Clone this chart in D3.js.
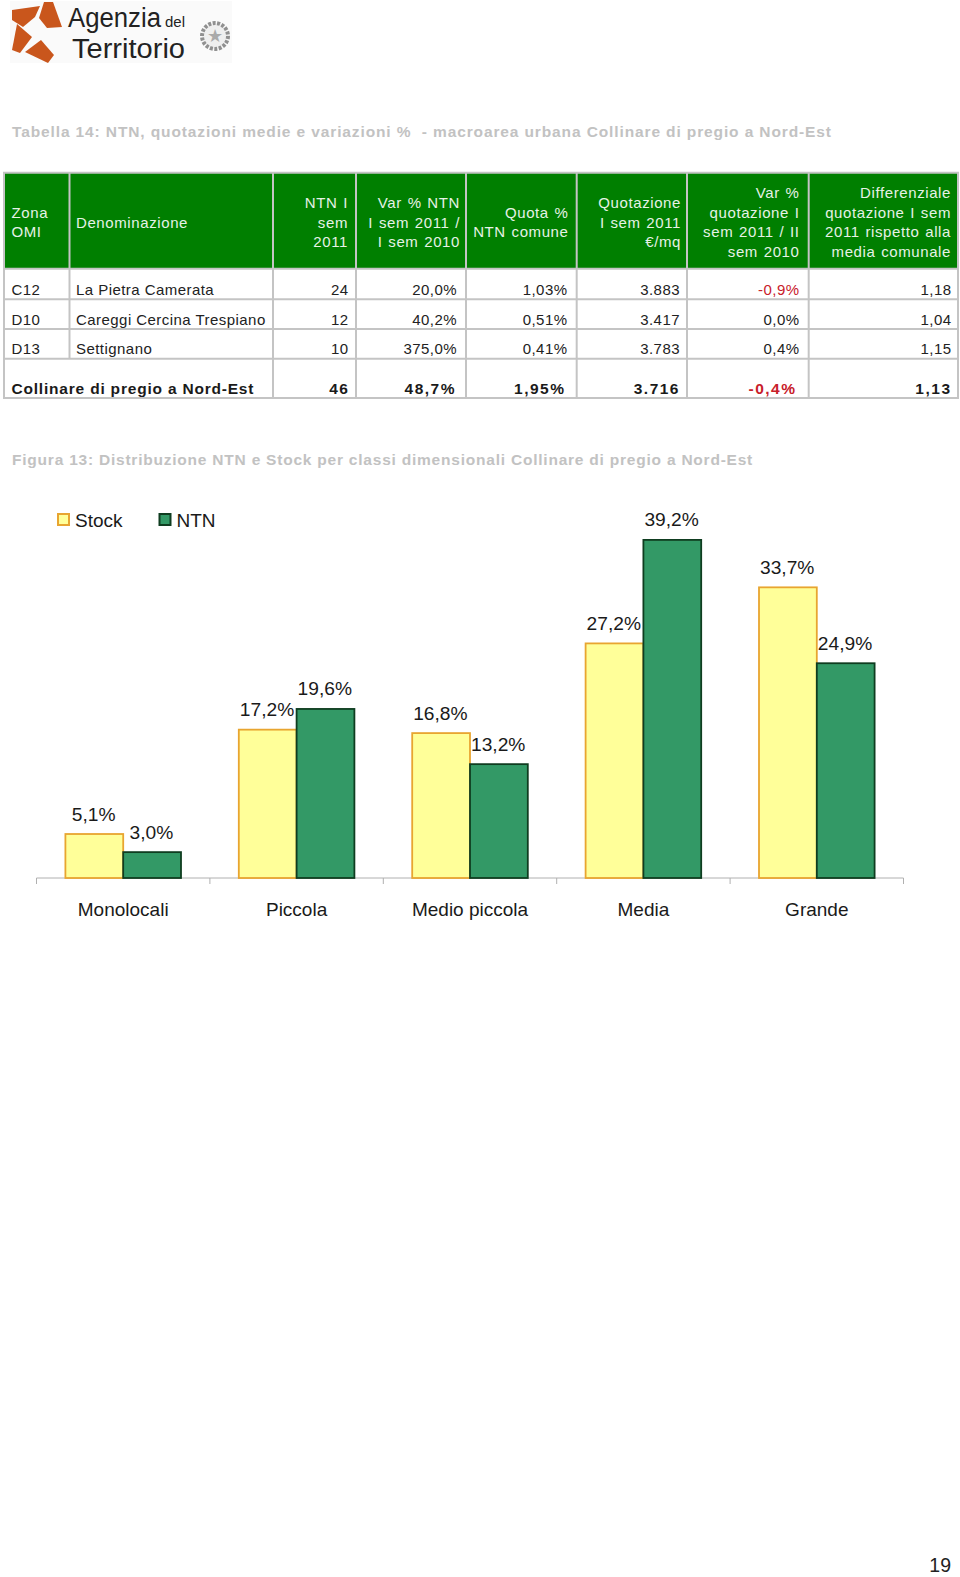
<!DOCTYPE html>
<html><head><meta charset="utf-8">
<script src="https://cdn.jsdelivr.net/npm/d3@7"></script>
<style>html,body{margin:0;padding:0;background:#fff}svg{display:block}text{font-family:"Liberation Sans",Arial,sans-serif}</style>
</head><body><div id="c"></div>
<script>
const tableTitle="Tabella 14: NTN, quotazioni medie e variazioni %  - macroarea urbana Collinare di pregio a Nord-Est";
const figureTitle="Figura 13: Distribuzione NTN e Stock per classi dimensionali Collinare di pregio a Nord-Est";
const headers=[["Zona","OMI"],["Denominazione"],["NTN I","sem","2011"],["Var % NTN","I sem 2011 /","I sem 2010"],["Quota %","NTN comune"],["Quotazione","I sem 2011","€/mq"],["Var %","quotazione I","sem 2011 / II","sem 2010"],["Differenziale","quotazione I sem","2011 rispetto alla","media comunale"]];
const rows=[["C12","La Pietra Camerata","24","20,0%","1,03%","3.883","-0,9%","1,18"],
["D10","Careggi Cercina Trespiano","12","40,2%","0,51%","3.417","0,0%","1,04"],
["D13","Settignano","10","375,0%","0,41%","3.783","0,4%","1,15"]];
const totalRow=["Collinare di pregio a Nord-Est","46","48,7%","1,95%","3.716","-0,4%","1,13"];
const categories=["Monolocali","Piccola","Medio piccola","Media","Grande"];
const stock=[5.1,17.2,16.8,27.2,33.7];
const ntn=[3.0,19.6,13.2,39.2,24.9];
const seriesNames=["Stock","NTN"];

const W=960,H=1577;
const svg=d3.select("#c").append("svg").attr("width",W).attr("height",H);
const lines=[4,69.5,273,356,466,576.7,687,808.7,958];
const rowY=[172.7,268.7,299.3,329,358.7,398];
const grey="#c4c4c4",green="#007f00";
const leftPad=[11.5,76];
const headEnd=[0,0,348,460,568.5,681,799.5,951];
const bodyEnd=[0,0,348.5,457,567.5,680,799.5,951.5];
const totalEnd=[0,0,349.5,456,565.5,680,796.5,951.5];

// logo
const logo=svg.append("g");
logo.append("rect").attr("x",10).attr("y",1).attr("width",222).attr("height",62).attr("fill","#fafafa");
const orange="#c9561c";
[[[12,10],[40,6],[35,17],[23,27],[12,20]],[[44,2],[53,2],[62,27],[47,28],[39,18]],[[12,50],[17,24],[32,37],[20,53]],[[25,52],[41,40],[54,55],[48,63]]]
 .forEach(p=>logo.append("polygon").attr("points",p.join(" ")).attr("fill",orange));
const logoText=(t,x,y,fs,len)=>logo.append("text").attr("x",x).attr("y",y).attr("font-size",fs).attr("fill","#222").attr("textLength",len).attr("lengthAdjust","spacingAndGlyphs").text(t);
logoText("Agenzia",68,26.5,27,93);
logoText("del",165,26.5,15,20);
logoText("Territorio",72,57.5,27,113);
logo.append("circle").attr("cx",215).attr("cy",36).attr("r",13).attr("fill","#efefef").attr("stroke","#909090").attr("stroke-width",4).attr("stroke-dasharray","3 1.5");
logo.append("text").attr("x",215).attr("y",42).attr("text-anchor","middle").attr("font-size",18).attr("fill","#aaa").text("★");

// titles
const title=(t,y,s)=>svg.append("text").attr("x",12).attr("y",y).attr("font-size",15.5).attr("font-weight","bold").attr("fill","#c2c2c2").style("letter-spacing",s).style("white-space","pre").text(t);
title(tableTitle,136.5,"0.88px");title(figureTitle,465,"0.78px");

// table
svg.append("rect").attr("x",lines[0]).attr("y",rowY[0]).attr("width",lines[8]-lines[0]).attr("height",rowY[1]-rowY[0]).attr("fill",green);
const tl=svg.append("g").attr("stroke",grey).attr("stroke-width",2);
lines.forEach((x,i)=>tl.append("line").attr("x1",x).attr("x2",x).attr("y1",rowY[0]).attr("y2",i==1?rowY[4]:rowY[5]));
rowY.forEach(y=>tl.append("line").attr("x1",lines[0]-1).attr("x2",lines[8]+1).attr("y1",y).attr("y2",y));
headers.forEach((h,c)=>{
  const left=c<2,n=h.length;
  h.forEach((t,i)=>svg.append("text")
    .attr("x",left?leftPad[c]:headEnd[c])
    .attr("y",227.5+(i-(n-1)/2)*19.7)
    .attr("text-anchor",left?"start":"end").attr("font-size",15).attr("fill","#e6f2e6")
    .style("letter-spacing","0.6px").style("word-spacing","1px").text(t));
});
const rowBase=[295,325,354];
rows.forEach((r,ri)=>r.forEach((t,c)=>{
  const left=c<2;
  svg.append("text").attr("x",left?leftPad[c]:bodyEnd[c]).attr("y",rowBase[ri])
   .attr("text-anchor",left?"start":"end").attr("font-size",15)
   .attr("fill",t.startsWith("-")?"#c8202a":"#222").style("letter-spacing","0.45px").text(t);
}));
totalRow.forEach((t,i)=>{
  const c=i==0?0:i+1,left=i==0;
  svg.append("text").attr("x",left?leftPad[0]:totalEnd[c]).attr("y",394.3)
   .attr("text-anchor",left?"start":"end").attr("font-size",15.5).attr("font-weight","bold")
   .attr("fill",t.startsWith("-")?"#c8202a":"#1a1a1a").style("letter-spacing",i==0?"0.8px":"1.5px").text(t);
});

// chart
const x=d3.scaleBand().domain(categories).range([36.5,903.5]);
const y=d3.scaleLinear().domain([0,40]).range([878,533]);
const inner=d3.scaleBand().domain(seriesNames).range([0,x.bandwidth()]).paddingInner(0).paddingOuter(0.5);
const axis=d3.axisBottom(x).tickSize(0).tickPadding(21).tickFormat(d=>d);
const ag=svg.append("g").attr("transform","translate(0,878)").call(axis);
ag.select(".domain").attr("stroke","#b0b0b0").attr("d","M36.5,6V0H903.5V6");
ag.selectAll(".tick text").attr("font-size",19).attr("font-family","Liberation Sans").attr("fill","#1a1a1a").attr("dy","0.88em");
d3.range(1,categories.length).forEach(i=>{
  const tx=x.range()[0]+x.step()*i;
  ag.append("line").attr("x1",tx).attr("x2",tx).attr("y1",0).attr("y2",6).attr("stroke","#b0b0b0");
});
const bw=inner.bandwidth();
const series=[{n:"Stock",v:stock,f:"#ffff99",s:"#e8a530"},{n:"NTN",v:ntn,f:"#339966",s:"#0f3d20"}];
series.forEach(sr=>{
  const g=svg.append("g");
  g.selectAll("rect").data(sr.v).join("rect")
   .attr("x",(d,i)=>x(categories[i])+inner(sr.n)).attr("width",bw)
   .attr("y",d=>y(d)).attr("height",d=>y(0)-y(d))
   .attr("fill",sr.f).attr("stroke",sr.s).attr("stroke-width",1.8);
  g.selectAll("text").data(sr.v).join("text")
   .attr("x",(d,i)=>x(categories[i])+inner(sr.n)+bw/2-0.7).attr("y",d=>y(d)-13.5)
   .attr("text-anchor","middle").attr("font-size",19.2).attr("fill","#1a1a1a")
   .text(d=>d3.format(".1f")(d).replace(".",",")+"%");
});
// legend
const lx=[58,159.5];
series.forEach((s,i)=>{
  svg.append("rect").attr("x",lx[i]).attr("y",514).attr("width",11).attr("height",11).attr("fill",s.f).attr("stroke",s.s).attr("stroke-width",2);
  svg.append("text").attr("x",lx[i]+17).attr("y",527).attr("font-size",19).attr("fill","#1a1a1a").text(s.n);
});
svg.append("text").attr("x",951).attr("y",1572).attr("text-anchor","end").attr("font-size",19.5).attr("fill","#222").text("19");
</script></body></html>
